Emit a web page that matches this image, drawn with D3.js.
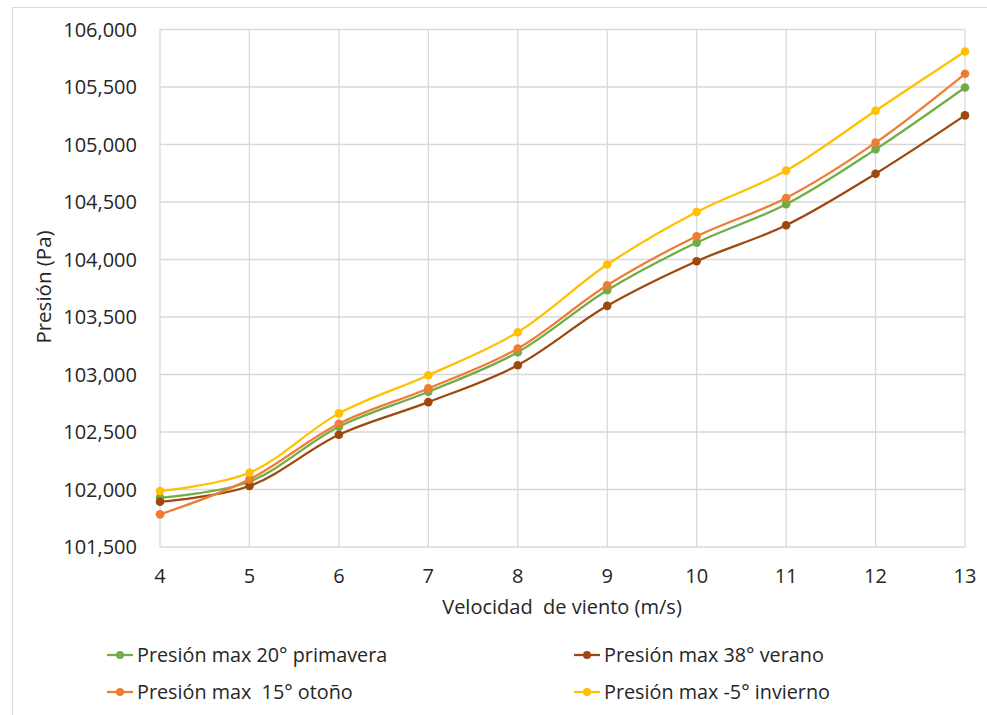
<!DOCTYPE html>
<html>
<head>
<meta charset="utf-8">
<script src="https://cdn.jsdelivr.net/npm/d3@7"></script>
<style>
  html, body { margin: 0; padding: 0; background: #fff; }
  svg text { font-family: "Open Sans", "Noto Sans", sans-serif; fill: #262626; }
</style>
</head>
<body>
<svg id="chart" width="987" height="715"></svg>
<script>
// Wind speed categories (m/s)
const windSpeeds = [4, 5, 6, 7, 8, 9, 10, 11, 12, 13];

// Maximum pressure (Pa) per season
const primavera20 = [101929, 102068, 102546, 102850, 103194, 103733, 104147, 104480, 104958, 105496];
const verano38    = [101894, 102030, 102476, 102760, 103081, 103597, 103985, 104298, 104746, 105253];
const otono15     = [101784, 102088, 102572, 102879, 103226, 103776, 104202, 104535, 105016, 105615];
const invierno5   = [101987, 102146, 102662, 102994, 103368, 103956, 104413, 104773, 105294, 105809];

const seriesNames = [
  "Presión max 20° primavera",
  "Presión max 38° verano",
  "Presión max  15° otoño",
  "Presión max -5° invierno"
];
const seriesColors = ["#70AD47", "#9E480E", "#ED7D31", "#FFC000"];

const yTicks = [101500, 102000, 102500, 103000, 103500, 104000, 104500, 105000, 105500, 106000];

const series = [primavera20, verano38, otono15, invierno5].map((vals, i) => ({
  name: seriesNames[i],
  color: seriesColors[i],
  values: vals.map((v, j) => ({ x: windSpeeds[j], y: v }))
}));

const svg = d3.select("#chart");

// Outer chart frame
svg.append("rect")
  .attr("x", 12.5).attr("y", 7.5)
  .attr("width", 1000).attr("height", 800)
  .attr("fill", "none").attr("stroke", "#d9d9d9").attr("stroke-width", 1);

const plot = { left: 160, right: 965, top: 29.5, bottom: 547 };

const x = d3.scaleLinear().domain([4, 13]).range([plot.left, plot.right]);
const y = d3.scaleLinear().domain([101500, 106000]).range([plot.bottom, plot.top]);

// Horizontal gridlines
svg.append("g")
  .selectAll("line")
  .data(yTicks)
  .join("line")
  .attr("x1", plot.left).attr("x2", plot.right)
  .attr("y1", d => y(d)).attr("y2", d => y(d))
  .attr("stroke", "#d9d9d9").attr("stroke-width", 1.3);

// Vertical gridlines
svg.append("g")
  .selectAll("line")
  .data(windSpeeds)
  .join("line")
  .attr("x1", d => x(d)).attr("x2", d => x(d))
  .attr("y1", plot.top).attr("y2", plot.bottom)
  .attr("stroke", "#d9d9d9").attr("stroke-width", 1.3);

// Y axis labels
const fmt = d3.format(",");
svg.append("g")
  .selectAll("text")
  .data(yTicks)
  .join("text")
  .attr("x", 137)
  .attr("y", d => y(d))
  .attr("dy", "0.35em")
  .attr("text-anchor", "end")
  .attr("font-size", 20)
  .text(d => fmt(d));

// X axis labels
svg.append("g")
  .selectAll("text")
  .data(windSpeeds)
  .join("text")
  .attr("x", d => x(d))
  .attr("y", 583)
  .attr("text-anchor", "middle")
  .attr("font-size", 20)
  .text(d => d);

// Axis titles
svg.append("text")
  .attr("x", 562).attr("y", 614)
  .attr("text-anchor", "middle")
  .attr("font-size", 20)
  .style("white-space", "pre")
  .text("Velocidad  de viento (m/s)");

svg.append("text")
  .attr("transform", "translate(51,287) rotate(-90)")
  .attr("text-anchor", "middle")
  .attr("font-size", 20.5)
  .text("Presión (Pa)");

// Smoothed series lines with markers
const line = d3.line()
  .x(d => x(d.x))
  .y(d => y(d.y))
  .curve(d3.curveCatmullRom.alpha(0.5));

const g = svg.append("g");
series.forEach(s => {
  g.append("path")
    .datum(s.values)
    .attr("d", line)
    .attr("fill", "none")
    .attr("stroke", s.color)
    .attr("stroke-width", 2.25)
    .attr("stroke-linejoin", "round");
  g.selectAll(null)
    .data(s.values)
    .join("circle")
    .attr("cx", d => x(d.x))
    .attr("cy", d => y(d.y))
    .attr("r", 4.3)
    .attr("fill", s.color);
});

// Legend
const legendPos = [
  { x: 107, y: 655 },
  { x: 574, y: 655 },
  { x: 107, y: 692 },
  { x: 574, y: 692 }
];
const legend = svg.append("g");
series.forEach((s, i) => {
  const p = legendPos[i];
  legend.append("line")
    .attr("x1", p.x).attr("x2", p.x + 26)
    .attr("y1", p.y).attr("y2", p.y)
    .attr("stroke", s.color).attr("stroke-width", 2.25);
  legend.append("circle")
    .attr("cx", p.x + 13).attr("cy", p.y).attr("r", 4)
    .attr("fill", s.color);
  legend.append("text")
    .attr("x", p.x + 30).attr("y", p.y)
    .attr("dy", "0.35em")
    .attr("font-size", 19.8)
    .style("white-space", "pre")
    .text(s.name);
});
</script>
</body>
</html>
